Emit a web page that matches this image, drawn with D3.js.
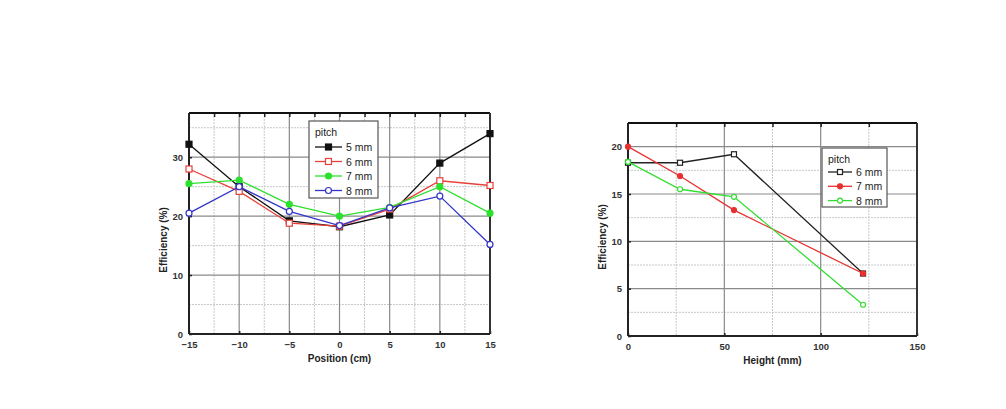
<!DOCTYPE html>
<html>
<head>
<meta charset="utf-8">
<script src="https://cdn.jsdelivr.net/npm/d3@7"></script>
<style>
  body { margin: 0; background: #fff; }
  svg text { font-family: "Liberation Sans", Arial, sans-serif; }
</style>
</head>
<body>
<svg id="chart" width="1006" height="409"></svg>
<script>
// left chart: efficiency vs position
const positions = [-15, -10, -5, 0, 5, 10, 15];
const pitch5 = [32.2, 25.0, 19.2, 18.2, 20.2, 29.0, 34.0];
const pitch6 = [28.0, 24.2, 18.8, 18.3, 21.2, 26.0, 25.2];
const pitch7 = [25.5, 26.1, 22.0, 20.0, 21.5, 25.0, 20.5];
const pitch8 = [20.5, 25.0, 20.8, 18.4, 21.4, 23.4, 15.2];
const posTicks = [-15, -10, -5, 0, 5, 10, 15];
const effTicksLeft = [0, 10, 20, 30];

// right chart: efficiency vs height
const heights = [0, 27, 55, 122];
const hPitch6 = [18.3, 18.3, 19.2, 6.6];
const hPitch7 = [20.0, 16.9, 13.3, 6.6];
const hPitch8 = [18.4, 15.5, 14.7, 3.3];
const heightTicks = [0, 50, 100, 150];
const effTicksRight = [0, 5, 10, 15, 20];

const svg = d3.select("#chart");

function drawPanel(cfg) {
    const g = svg.append("g");
    const x = d3.scaleLinear().domain(cfg.xDomain).range([cfg.left, cfg.right]);
    const y = d3.scaleLinear().domain(cfg.yDomain).range([cfg.bottom, cfg.top]);

    // grid: minor dashed, major solid
    g.selectAll(".vminor").data(cfg.xMinor).join("line")
        .attr("x1", d => x(d)).attr("x2", d => x(d))
        .attr("y1", cfg.top).attr("y2", cfg.bottom)
        .attr("stroke", "#c8c8c8").attr("stroke-width", 1).attr("stroke-dasharray", "2,1");
    g.selectAll(".hminor").data(cfg.yMinor).join("line")
        .attr("x1", cfg.left).attr("x2", cfg.right)
        .attr("y1", d => y(d)).attr("y2", d => y(d))
        .attr("stroke", "#c8c8c8").attr("stroke-width", 1).attr("stroke-dasharray", "2,1");
    g.selectAll(".vmajor").data(cfg.xMajor).join("line")
        .attr("x1", d => x(d)).attr("x2", d => x(d))
        .attr("y1", cfg.top).attr("y2", cfg.bottom)
        .attr("stroke", "#8a8a8a").attr("stroke-width", 1.2);
    g.selectAll(".hmajor").data(cfg.yMajor).join("line")
        .attr("x1", cfg.left).attr("x2", cfg.right)
        .attr("y1", d => y(d)).attr("y2", d => y(d))
        .attr("stroke", "#8a8a8a").attr("stroke-width", 1.2);

    // axes with inside ticks
    g.append("g")
        .attr("transform", "translate(0," + cfg.bottom + ")")
        .call(d3.axisBottom(x).tickValues(cfg.xTicks).tickSize(-3).tickPadding(7).tickSizeOuter(0))
        .call(a => a.select(".domain").remove());
    g.append("g")
        .attr("transform", "translate(" + cfg.left + ",0)")
        .call(d3.axisLeft(y).tickValues(cfg.yTicks).tickSize(-3).tickPadding(6).tickSizeOuter(0))
        .call(a => a.select(".domain").remove());
    g.append("g")
        .attr("transform", "translate(0," + cfg.top + ")")
        .call(d3.axisTop(x).tickValues(cfg.xMajor.concat(cfg.xMinor)).tickSize(-4).tickFormat("").tickSizeOuter(0))
        .call(a => a.select(".domain").remove());
    g.selectAll(".tick line").attr("stroke", "#222").attr("stroke-width", 1.5);
    g.selectAll(".tick text").attr("fill", "#333").attr("font-size", 9.5).attr("font-weight", "bold");

    // frame
    g.append("line").attr("x1", cfg.left).attr("x2", cfg.right).attr("y1", cfg.top).attr("y2", cfg.top)
        .attr("stroke", "#111").attr("stroke-width", 2);
    g.append("line").attr("x1", cfg.right).attr("x2", cfg.right).attr("y1", cfg.top).attr("y2", cfg.bottom)
        .attr("stroke", "#333").attr("stroke-width", 2);
    g.append("line").attr("x1", cfg.left).attr("x2", cfg.left).attr("y1", cfg.top).attr("y2", cfg.bottom)
        .attr("stroke", "#222").attr("stroke-width", 2);
    g.append("line").attr("x1", cfg.left).attr("x2", cfg.right).attr("y1", cfg.bottom).attr("y2", cfg.bottom)
        .attr("stroke", "#222").attr("stroke-width", 2);

    // axis titles
    g.append("text")
        .attr("x", (cfg.left + cfg.right) / 2 + cfg.xTitleShift).attr("y", cfg.bottom + 28)
        .attr("text-anchor", "middle").attr("font-size", 10).attr("font-weight", "bold").attr("fill", "#222")
        .text(cfg.xTitle);
    g.append("text")
        .attr("transform", "translate(" + (cfg.left - 22) + "," + cfg.yTitleY + ") rotate(-90)")
        .attr("text-anchor", "middle").attr("font-size", 10).attr("font-weight", "bold").attr("fill", "#222")
        .text("Efficiency (%)");

    // series
    const line = d3.line().x(d => x(d[0])).y(d => y(d[1]));
    cfg.series.forEach(s => {
        const pts = cfg.xs.map((v, i) => [v, s.values[i]]);
        g.append("path").datum(pts).attr("d", line)
            .attr("fill", "none").attr("stroke", s.color).attr("stroke-width", 1.3);
        drawMarkers(g, pts.map(p => [x(p[0]), y(p[1])]), s, cfg.markerSize);
    });

    // legend
    const lg = g.append("g").attr("transform", "translate(" + cfg.legend.x + "," + cfg.legend.y + ")");
    lg.append("rect").attr("width", cfg.legend.w).attr("height", cfg.legend.h)
        .attr("fill", "#fff").attr("stroke", "#555").attr("stroke-width", 1.2);
    lg.append("text").attr("x", 6).attr("y", 15).attr("font-size", 10.5).attr("fill", "#222").text("pitch");
    cfg.series.forEach((s, i) => {
        const ly = cfg.legend.row0 + i * cfg.legend.step;
        lg.append("line").attr("x1", 6).attr("x2", 6 + cfg.legend.sample)
            .attr("y1", ly).attr("y2", ly).attr("stroke", s.color).attr("stroke-width", 1.3);
        drawMarkers(lg, [[6 + cfg.legend.sample / 2, ly]], s, cfg.markerSize);
        lg.append("text").attr("x", 10 + cfg.legend.sample).attr("y", ly + 4)
            .attr("font-size", 10.5).attr("fill", "#222").text(s.name);
    });
}

function drawMarkers(g, pts, s, size) {
    const h = size / 2;
    pts.forEach(p => {
        if (s.shape === "square") {
            g.append("rect").attr("x", p[0] - h).attr("y", p[1] - h).attr("width", size).attr("height", size)
                .attr("fill", s.filled ? s.color : "#fff").attr("stroke", s.color).attr("stroke-width", 1.2);
        } else {
            g.append("circle").attr("cx", p[0]).attr("cy", p[1]).attr("r", h)
                .attr("fill", s.filled ? s.color : "#fff").attr("stroke", s.color).attr("stroke-width", 1.2);
        }
    });
}

drawPanel({
    left: 189, right: 490, top: 113, bottom: 334,
    xDomain: [-15, 15], yDomain: [0, 37.5],
    xs: positions,
    xTicks: posTicks, yTicks: effTicksLeft,
    xMajor: [-10, -5, 0, 5, 10], xMinor: [-12.5, -7.5, -2.5, 2.5, 7.5, 12.5],
    yMajor: [10, 20, 30], yMinor: [5, 15, 25, 35],
    xTitle: "Position (cm)", xTitleShift: 0, yTitleY: 240,
    markerSize: 6,
    series: [
        { name: "5 mm", values: pitch5, color: "#111111", shape: "square", filled: true },
        { name: "6 mm", values: pitch6, color: "#e8403a", shape: "square", filled: false },
        { name: "7 mm", values: pitch7, color: "#2ee02e", shape: "circle", filled: true },
        { name: "8 mm", values: pitch8, color: "#3434c8", shape: "circle", filled: false }
    ],
    legend: { x: 309, y: 121, w: 69, h: 77, row0: 26, step: 14.5, sample: 27 }
});

drawPanel({
    left: 628, right: 917, top: 123, bottom: 336,
    xDomain: [0, 150], yDomain: [0, 22.5],
    xs: heights,
    xTicks: heightTicks, yTicks: effTicksRight,
    xMajor: [50, 100], xMinor: [25, 75, 125],
    yMajor: [5, 10, 15, 20], yMinor: [2.5, 7.5, 12.5, 17.5],
    xTitle: "Height (mm)", xTitleShift: 0, yTitleY: 237,
    markerSize: 5,
    series: [
        { name: "6 mm", values: hPitch6, color: "#222222", shape: "square", filled: false },
        { name: "7 mm", values: hPitch7, color: "#e83030", shape: "circle", filled: true },
        { name: "8 mm", values: hPitch8, color: "#33dd33", shape: "circle", filled: false }
    ],
    legend: { x: 822, y: 148, w: 65, h: 59, row0: 24, step: 14.3, sample: 24 }
});
</script>
</body>
</html>
